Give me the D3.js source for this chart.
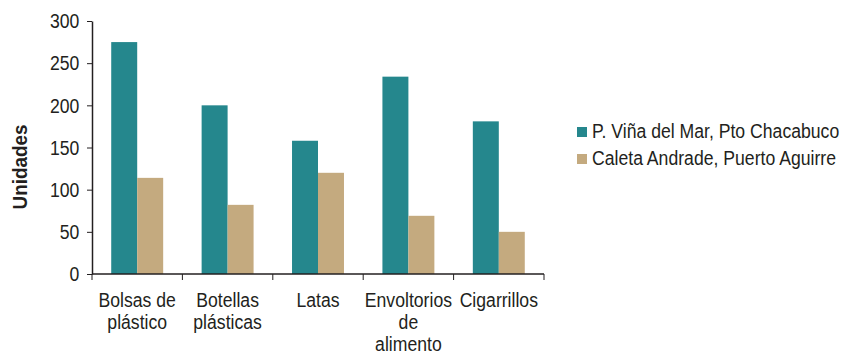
<!DOCTYPE html>
<html>
<head>
<meta charset="utf-8">
<script src="https://cdn.jsdelivr.net/npm/d3@7"></script>
<style>
  body { margin: 0; background: #fff; }
  svg text { font-family: "Liberation Sans", Arial, sans-serif; fill: #231f20; }
  .axis path, .axis line { stroke: #231f20; }
</style>
</head>
<body>
<svg width="845" height="352"></svg>
<script>
const categories = ['Bolsas de plástico', 'Botellas plásticas', 'Latas', 'Envoltorios de alimento', 'Cigarrillos'];
const categoryLines = [['Bolsas de', 'plástico'], ['Botellas', 'plásticas'], ['Latas'], ['Envoltorios', 'de', 'alimento'], ['Cigarrillos']];
const seriesNames = ['P. Viña del Mar, Pto Chacabuco', 'Caleta Andrade, Puerto Aguirre'];
const vinaValues = [275, 200, 158, 234, 181];
const caletaValues = [114, 82, 120, 69, 50];
const yTicks = [0, 50, 100, 150, 200, 250, 300];
const colors = ['#25878d', '#c4aa7f'];

const svg = d3.select('svg');
const plotLeft = 92, plotRight = 544, plotTop = 21, plotBottom = 274;
const narrow = 'scale(0.84,1)'; // fake a condensed face
const fontSize = '21px';

const x0 = d3.scaleBand()
    .domain(categories)
    .range([plotLeft, plotRight])
    .padding(0);

const x1 = d3.scaleBand()
    .domain(seriesNames)
    .range([0, x0.bandwidth()])
    .paddingInner(0)
    .paddingOuter(0.74);

const y = d3.scaleLinear()
    .domain([0, 300])
    .range([plotBottom, plotTop]);

const rows = categories.map((c, i) => ({ cat: c, values: [vinaValues[i], caletaValues[i]] }));

// bars
const groups = svg.selectAll('g.cat')
    .data(rows)
    .enter()
    .append('g')
    .attr('class', 'cat')
    .attr('transform', d => `translate(${x0(d.cat)},0)`);

groups.selectAll('rect')
    .data(d => d.values.map((v, j) => ({ name: seriesNames[j], value: v, j: j })))
    .enter()
    .append('rect')
    .attr('x', d => x1(d.name))
    .attr('y', d => y(d.value))
    .attr('width', x1.bandwidth())
    .attr('height', d => y(0) - y(d.value))
    .attr('fill', d => colors[d.j]);

// y axis
const yAxis = svg.append('g')
    .attr('class', 'axis')
    .attr('transform', `translate(${plotLeft},0)`)
    .call(d3.axisLeft(y).tickValues(yTicks).tickSize(5).tickSizeOuter(0).tickPadding(10));
yAxis.select('.domain').attr('stroke-width', 1.5);
yAxis.selectAll('text')
    .style('font-size', fontSize)
    .attr('transform', narrow);
yAxis.selectAll('.tick line').attr('stroke', '#777');

// x axis with ticks at band boundaries
const xAxis = svg.append('g').attr('class', 'axis');
xAxis.append('line')
    .attr('x1', plotLeft).attr('x2', plotRight)
    .attr('y1', y(0)).attr('y2', y(0))
    .attr('stroke-width', 1.5);
const bounds = categories.map(c => x0(c)).concat([plotRight]);
xAxis.selectAll('line.tk')
    .data(bounds)
    .enter()
    .append('line')
    .attr('class', 'tk')
    .attr('x1', d => d).attr('x2', d => d)
    .attr('y1', y(0)).attr('y2', y(0) + 6)
    .attr('stroke', '#777');

const labels = svg.selectAll('g.xl')
    .data(categories)
    .enter()
    .append('g')
    .attr('class', 'xl')
    .attr('transform', d => `translate(${x0(d) + x0.bandwidth() / 2},307)`)
    .append('text')
    .attr('text-anchor', 'middle')
    .style('font-size', fontSize)
    .attr('transform', narrow);
labels.selectAll('tspan')
    .data((d, i) => categoryLines[i])
    .enter()
    .append('tspan')
    .attr('x', 0)
    .attr('dy', (d, i) => i === 0 ? 0 : 22)
    .text(d => d);

// y axis title
svg.append('text')
    .attr('transform', 'translate(27,167) rotate(-90) scale(0.9,1)')
    .attr('text-anchor', 'middle')
    .style('font-size', fontSize)
    .style('font-weight', 'bold')
    .text('Unidades');

// legend
const legend = svg.selectAll('g.leg')
    .data(seriesNames)
    .enter()
    .append('g')
    .attr('class', 'leg')
    .attr('transform', (d, i) => `translate(577,${138 + i * 27})`);
legend.append('rect')
    .attr('x', 0).attr('y', -11)
    .attr('width', 10).attr('height', 10)
    .attr('fill', (d, i) => colors[i]);
legend.append('text')
    .attr('transform', `translate(15,0) ${narrow}`)
    .style('font-size', fontSize)
    .text(d => d);
</script>
</body>
</html>
